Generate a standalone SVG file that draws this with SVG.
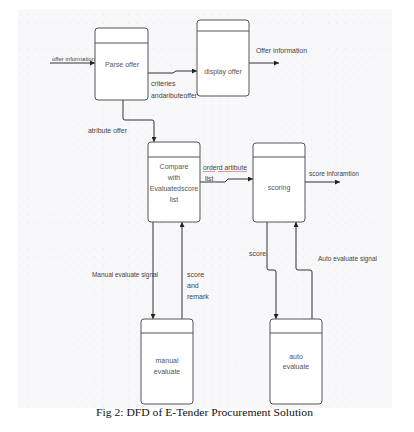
<svg xmlns="http://www.w3.org/2000/svg" width="414" height="432" viewBox="0 0 414 432">
<style>
.box{fill:#ffffff;stroke:#555;stroke-width:1}
.hdr{stroke:#555;stroke-width:1}
.bt{font-family:"Liberation Sans",Arial,sans-serif;font-size:7px;fill:#555;text-anchor:middle}
.lb{font-family:"Liberation Sans",Arial,sans-serif;font-size:7px;fill:#444}
.cn{fill:none;stroke:#333;stroke-width:1}
.cap{font-family:"Liberation Serif","Times New Roman",serif;font-size:11px;fill:#111;text-anchor:middle}
</style>
<defs>
<pattern id="dots" patternUnits="userSpaceOnUse" x="16" y="11" width="8.33" height="8.33">
<circle cx="4.17" cy="4.17" r="0.55" fill="#dcdce3"/>
</pattern>
<marker id="ah" viewBox="0 0 8 8" refX="8" refY="4" markerWidth="5" markerHeight="5" orient="auto" markerUnits="userSpaceOnUse">
<path d="M0,0 L8,4 L0,8 z" fill="#222"/>
</marker>
</defs>
<rect x="0" y="0" width="414" height="432" fill="#ffffff"/>
<rect x="18" y="9" width="374" height="399" fill="#f8f8fa"/>
<rect x="18" y="9" width="374" height="399" fill="url(#dots)"/>

<g id="connectors">
<path class="cn" d="M50,63 H95" marker-end="url(#ah)"/>
<path class="cn" d="M148,73 H173 L176,71 H197" marker-end="url(#ah)"/>
<path class="cn" d="M249,63 H279" marker-end="url(#ah)"/>
<path class="cn" d="M123,100 V118 Q123,120 125,120 H152 Q154,120 154,122 V142" marker-end="url(#ah)"/>
<path class="cn" d="M200,182 H225 L228,179 H253" marker-end="url(#ah)"/>
<path class="cn" d="M305,182 H340" marker-end="url(#ah)"/>
<path class="cn" d="M153,222 V319" marker-end="url(#ah)"/>
<path class="cn" d="M182,319 V222" marker-end="url(#ah)"/>
<path class="cn" d="M267,222 V268 Q267,270 269,270 H274 Q276,270 276,272 V319" marker-end="url(#ah)"/>
<path class="cn" d="M312,319 V272 Q312,270 310,270 H298 Q296,270 296,268 V222" marker-end="url(#ah)"/>
</g>

<g id="labels">
<text class="lb" x="52" y="60.5" style="font-size:6px" textLength="43" lengthAdjust="spacingAndGlyphs">offer information</text>
<text class="lb" x="151" y="86">criteries</text>
<text class="lb" x="151" y="97.5" textLength="46" lengthAdjust="spacingAndGlyphs">andaributeoffer</text>
<text class="lb" x="256" y="52.5" textLength="51" lengthAdjust="spacingAndGlyphs">Offer information</text>
<text class="lb" x="88" y="132.5" textLength="39" lengthAdjust="spacingAndGlyphs">atribute offer</text>
<text class="lb" x="203" y="169.5" textLength="44" lengthAdjust="spacingAndGlyphs">orderd artibute</text>
<path d="M203,171.5 H215 M218,171.5 H247" stroke="#e05050" stroke-width="0.6" fill="none"/>
<text class="lb" x="205" y="180.5">list</text>
<text class="lb" x="309" y="175.5" textLength="50" lengthAdjust="spacingAndGlyphs">score inforamtion</text>
<text class="lb" x="92" y="276.5" textLength="66" lengthAdjust="spacingAndGlyphs">Manual evaluate signal</text>
<text class="lb" x="187" y="276.5">score</text>
<text class="lb" x="187" y="287.5">and</text>
<text class="lb" x="187" y="298.5">remark</text>
<text class="lb" x="249" y="255.5">score</text>
<text class="lb" x="318" y="260.5" textLength="59" lengthAdjust="spacingAndGlyphs">Auto evaluate signal</text>
</g>

<g id="parse-offer">
<rect class="box" x="95" y="28" width="53" height="72" rx="3"/>
<line class="hdr" x1="95" y1="43" x2="148" y2="43"/>
<text class="bt" x="122" y="66.5">Parse offer</text>
</g>
<g id="display-offer">
<rect class="box" x="197" y="20" width="52" height="76" rx="3"/>
<line class="hdr" x1="197" y1="31" x2="249" y2="31"/>
<text class="bt" x="223" y="73.5">display offer</text>
</g>
<g id="compare">
<rect class="box" x="148" y="142" width="52" height="80" rx="3"/>
<line class="hdr" x1="148" y1="157" x2="200" y2="157"/>
<text class="bt" x="174" y="169">Compare</text>
<text class="bt" x="174" y="180">with</text>
<text class="bt" x="174" y="191">Evaluatedscore</text>
<text class="bt" x="174" y="202">list</text>
</g>
<g id="scoring">
<rect class="box" x="253" y="143" width="52" height="79" rx="3"/>
<line class="hdr" x1="253" y1="157" x2="305" y2="157"/>
<text class="bt" x="279" y="189.5">scoring</text>
</g>
<g id="manual-evaluate">
<rect class="box" x="141" y="319" width="52" height="85" rx="3"/>
<line class="hdr" x1="141" y1="333" x2="193" y2="333"/>
<text class="bt" x="167" y="362.5">manual</text>
<text class="bt" x="167" y="374">evaluate</text>
</g>
<g id="auto-evaluate">
<rect class="box" x="270" y="319" width="52" height="85" rx="3"/>
<line class="hdr" x1="270" y1="333" x2="322" y2="333"/>
<text class="bt" x="296" y="358.5">auto</text>
<text class="bt" x="296" y="369">evaluate</text>
</g>

<text class="cap" x="204.5" y="416" textLength="217" lengthAdjust="spacingAndGlyphs">Fig 2: DFD of E-Tender Procurement Solution</text>
</svg>
